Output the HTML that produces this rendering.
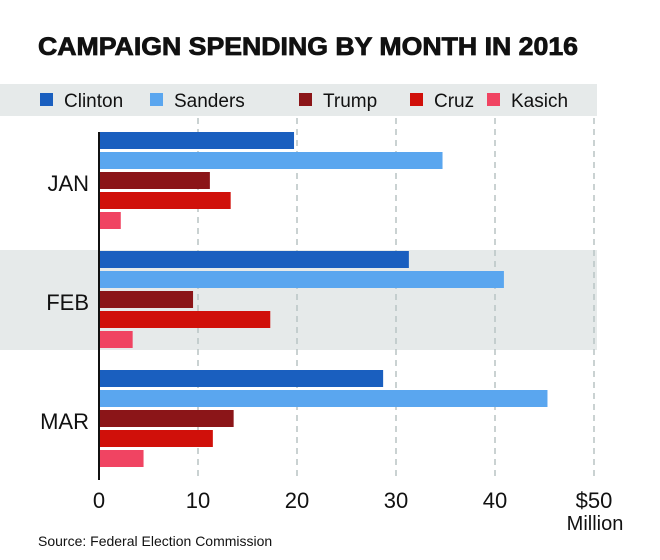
<!DOCTYPE html>
<html><head><meta charset="utf-8"><style>
body{margin:0;background:#fff;font-family:"Liberation Sans",sans-serif;}
#wrap{position:relative;width:660px;height:560px;overflow:hidden;background:#fff;}
</style></head><body>
<div id="wrap">
<svg id="svg" width="660" height="560" xmlns="http://www.w3.org/2000/svg">
<text x="38" y="55" font-size="25" font-weight="bold" fill="#111" stroke="#111" stroke-width="0.8" textLength="540" lengthAdjust="spacingAndGlyphs">CAMPAIGN SPENDING BY MONTH IN 2016</text>
<rect x="0" y="84" width="597" height="32" fill="#e6eaea"/>
<g id="legend"></g>
<rect x="0" y="250" width="597" height="100" fill="#e6eaea"/>
<g id="grid"></g><g id="bars"></g><g id="labels"></g>
<text x="38" y="546" font-size="14" fill="#111">Source: Federal Election Commission</text>
</svg>
</div>
<script>
const categories=["JAN","FEB","MAR"];
const series=["Clinton","Sanders","Trump","Cruz","Kasich"];
const colors=["#1a5fbf","#5aa6ef","#8b1518","#d0100a","#f04462"];
const clinton=[19.7,31.3,28.7];
const sanders=[34.7,40.9,45.3];
const trump=[11.2,9.5,13.6];
const cruz=[13.3,17.3,11.5];
const kasich=[2.2,3.4,4.5];
const ticks=[0,10,20,30,40,50];
const tickLabels=["0","10","20","30","40","$50"];
const values=[clinton,sanders,trump,cruz,kasich];
const NS="http://www.w3.org/2000/svg";
const x=v=>99+v*9.9;
const gy=i=>132+i*119;
function mk(t,a,p){const e=document.createElementNS(NS,t);for(const k in a)e.setAttribute(k,a[k]);p.appendChild(e);return e;}
const grid=document.getElementById('grid'),bars=document.getElementById('bars'),labels=document.getElementById('labels'),legend=document.getElementById('legend');
const legX=[40,150,299,410,487];
series.forEach((s,i)=>{
 const r=mk('rect',{x:legX[i],y:93,width:13,height:13,fill:colors[i]},legend);
 
 
 const t=mk('text',{x:legX[i]+24,y:107,'font-size':19,fill:'#111'},legend);t.textContent=s;
 
 
});
ticks.forEach((v,i)=>{
 if(v>0){const l=mk('line',{x1:x(v),x2:x(v),y1:118,y2:480,stroke:'#b8c4c4','stroke-width':1.5,'stroke-dasharray':'6,5'},grid);
 
 }
 const t=mk('text',{x:x(v),y:508,'font-size':22,fill:'#111','text-anchor':'middle'},labels);t.textContent=tickLabels[i];
 
 
});
const m=mk('text',{x:595,y:530,'font-size':20,fill:'#111','text-anchor':'middle'},labels);m.textContent="Million";


categories.forEach((c,ci)=>{
 series.forEach((s,si)=>{
  const r=mk('rect',{x:x(0),y:gy(ci)+si*20,width:x(values[si][ci])-x(0),height:17,fill:colors[si]},bars);
  
  
 });
 const t=mk('text',{x:89,y:gy(ci)+59,'font-size':22,fill:'#111','text-anchor':'end'},labels);t.textContent=c;
 
 
});
const ax=mk('line',{x1:99,x2:99,y1:132,y2:480,stroke:'#111','stroke-width':2},labels);


</script>
</body></html>
